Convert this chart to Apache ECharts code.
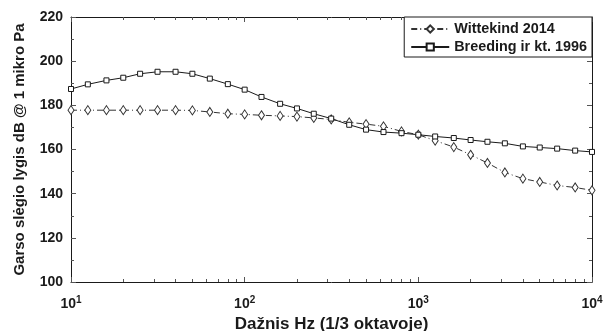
<!DOCTYPE html>
<html>
<head>
<meta charset="utf-8">
<script src="https://cdn.jsdelivr.net/npm/echarts@6/dist/echarts.min.js"></script>
<style>
  html, body { margin: 0; padding: 0; background: #fff; }
  #chart { width: 604px; height: 331px; }
</style>
</head>
<body>
<div id="chart"></div>
<script>
  // 1/3 oktavos dazniai, Hz
  var freqs = [10, 12.5, 16, 20, 25, 31.5, 40, 50, 63, 80, 100, 125, 160, 200, 250, 315,
    400, 500, 630, 800, 1000, 1250, 1600, 2000, 2500, 3150, 4000, 5000, 6300, 8000, 10000];
  var wittekind = [177.8, 177.8, 177.8, 177.8, 177.8, 177.8, 177.8, 177.7, 177.0, 176.2, 175.9,
    175.5, 175.2, 174.9, 174.3, 173.6, 172.3, 171.5, 170.5, 168.2, 166.7, 164.0, 161.1, 157.6,
    153.9, 149.6, 146.8, 145.3, 143.7, 142.8, 141.5];
  var breeding = [187.4, 189.5, 191.3, 192.5, 194.3, 195.2, 195.2, 194.3, 192.1, 189.6, 187.1,
    183.8, 180.7, 178.6, 176.2, 174.0, 171.2, 169.0, 167.9, 167.4, 166.7, 165.9, 165.2, 164.3,
    163.5, 162.8, 161.4, 160.9, 160.4, 159.5, 158.9];
  var majorTicksX = [10, 100, 1000, 10000];
  var minorTicksX = [20, 30, 40, 50, 60, 70, 80, 90, 200, 300, 400, 500, 600, 700, 800, 900,
    2000, 3000, 4000, 5000, 6000, 7000, 8000, 9000];
  var seriesNames = ['Wittekind 2014', 'Breeding ir kt. 1996'];

  function pairs(ys) {
    return freqs.map(function (f, i) { return [f, ys[i]]; });
  }

  var font = 'Liberation Sans, Arial, sans-serif';
  var ink = '#1a1a1a';

  function xAx(pos, ticks, len, showLine, showLabel) {
    return {
      type: 'log', logBase: 10, min: 10, max: 10000, position: pos,
      axisLine: { show: showLine, onZero: false, lineStyle: { color: ink, width: 1 } },
      axisTick: { show: true, inside: true, length: len, customValues: ticks,
                  lineStyle: { color: '#555', width: 1 } },
      axisLabel: showLabel ? {
        show: true, margin: 13, customValues: majorTicksX,
        formatter: function (v) {
          return '{b|10}{s|' + Math.round(Math.log10(v)) + '}';
        },
        rich: {
          b: { fontFamily: font, fontWeight: 'bold', fontSize: 14, color: ink },
          s: { fontFamily: font, fontWeight: 'bold', fontSize: 10, color: ink, padding: [0, 0, 8, 0] }
        }
      } : { show: false },
      splitLine: { show: false }
    };
  }

  function yAx(pos, showLabel) {
    return {
      type: 'value', min: 100, max: 220, interval: 20, position: pos,
      axisLine: { show: true, onZero: false, lineStyle: { color: ink, width: 1 } },
      axisTick: { show: true, inside: true, length: 5, lineStyle: { color: '#555' } },
      minorTick: { show: true, splitNumber: 2, length: 3, lineStyle: { color: '#555' } },
      axisLabel: { show: showLabel, margin: 8, fontFamily: font, fontWeight: 'bold',
                   fontSize: 14, color: ink },
      splitLine: { show: false }
    };
  }

  var yAxes = [yAx('left', true), yAx('right', false)];
  yAxes[0].name = 'Garso slėgio lygis dB @ 1 mikro Pa';
  yAxes[0].nameLocation = 'middle';
  yAxes[0].nameGap = 44;
  yAxes[0].nameTextStyle = { fontFamily: font, fontWeight: 'bold', fontSize: 15, color: ink };

  var xAxes = [
    xAx('bottom', majorTicksX, 5, true, true),
    xAx('bottom', minorTicksX, 3, false, false),
    xAx('top', majorTicksX, 5, true, false),
    xAx('top', minorTicksX, 3, false, false)
  ];
  xAxes[0].name = 'Dažnis Hz (1/3 oktavoje)';
  xAxes[0].nameLocation = 'middle';
  xAxes[0].nameGap = 33;
  xAxes[0].nameTextStyle = { fontFamily: font, fontWeight: 'bold', fontSize: 17, color: ink };

  var chart = echarts.init(document.getElementById('chart'), null, { renderer: 'canvas' });
  chart.setOption({
    animation: false,
    backgroundColor: '#fff',
    grid: { left: 71, right: 12, top: 17, bottom: 49, containLabel: false, outerBoundsMode: 'none' },
    legend: {
      orient: 'vertical', right: 12, top: 17,
      backgroundColor: '#fff', borderColor: ink, borderWidth: 1,
      padding: [5, 5, 3, 6], itemGap: 4, itemWidth: 38, itemHeight: 9,
      textStyle: { fontFamily: font, fontWeight: 'bold', fontSize: 14.4, color: ink },
      data: seriesNames
    },
    xAxis: xAxes,
    yAxis: yAxes,
    series: [
      {
        name: seriesNames[0], type: 'line', xAxisIndex: 0, yAxisIndex: 0,
        data: pairs(wittekind),
        symbol: 'diamond', symbolSize: [6, 9], showSymbol: true,
        lineStyle: { color: '#333', width: 1, type: [6, 3, 1, 3] },
        itemStyle: { color: '#fff', borderColor: '#333', borderWidth: 1 }
      },
      {
        name: seriesNames[1], type: 'line', xAxisIndex: 0, yAxisIndex: 0,
        data: pairs(breeding),
        symbol: 'rect', symbolSize: 5, showSymbol: true,
        lineStyle: { color: ink, width: 1 },
        itemStyle: { color: '#fff', borderColor: ink, borderWidth: 1 }
      }
    ]
  });
</script>
</body>
</html>
